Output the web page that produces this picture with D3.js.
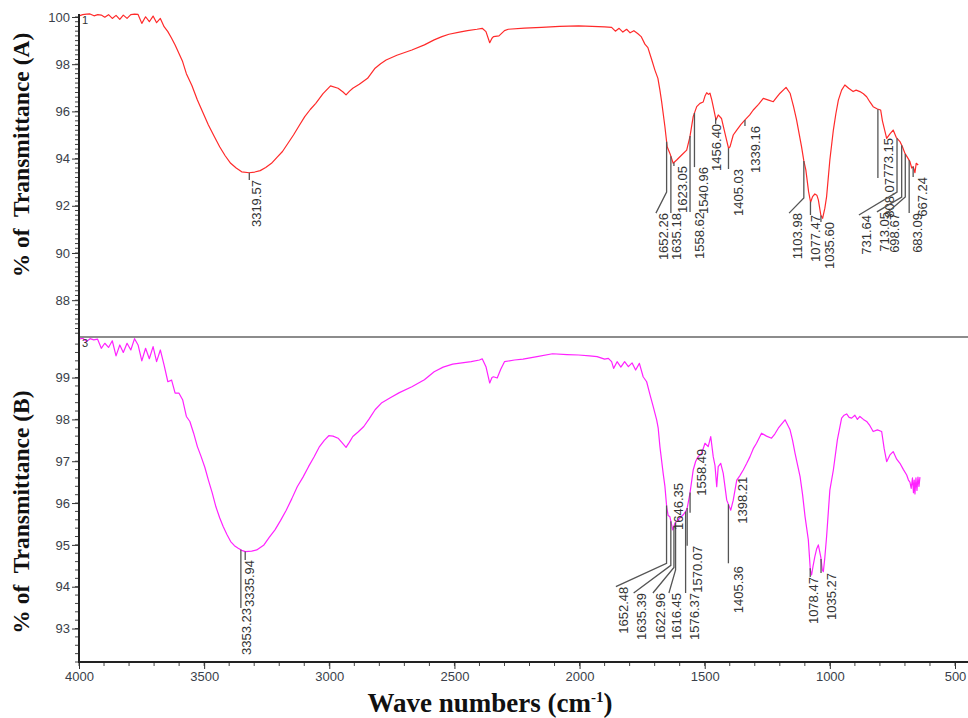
<!DOCTYPE html>
<html>
<head>
<meta charset="utf-8">
<script src="https://cdn.jsdelivr.net/npm/d3@7/dist/d3.min.js"></script>
<style>
  body { margin: 0; background: #fff; }
</style>
</head>
<body>
<svg id="chart" width="968" height="718"></svg>
<script>
// spectrum (A): wavenumber / % transmittance
var wnA = [4000,3985,3970,3956,3940,3925,3911,3897,3882,3867,3852,3837,3823,3808,3793,3778,3764,3749,3734,3719,3704,3690,3675,3660,3645,3630,3616,3601,3586,3571,3549,3527,3505,3483,3460,3438,3416,3394,3372,3350,3320,3298,3276,3254,3231,3209,3187,3165,3143,3120,3098,3076,3054,3025,2995,2965,2945,2933,2920,2906,2880,2847,2817,2795,2773,2730,2670,2620,2581,2550,2522,2480,2448,2410,2389,2374,2359,2350,2344,2322,2300,2285,2220,2152,2080,2004,1950,1900,1872,1857,1842,1827,1812,1798,1783,1768,1754,1739,1727,1712,1699,1687,1679,1672,1659,1650,1639,1626,1612,1592,1572,1559,1546,1532,1519,1506,1499,1492,1485,1479,1472,1466,1455,1446,1433,1419,1405,1399,1386,1372,1355,1339,1320,1306,1285,1266,1245,1226,1212,1199,1175,1159,1145,1133,1113,1104,1096,1085,1077,1069,1060,1052,1046,1036,1029,1020,1013,1000,986,976,966,953,940,925,907,895,880,866,853,840,827,810,797,790,773,760,747,735,720,710,700,690,680,673,667,660,655,647];
var trA = [100.05,100.1,100.12,100.13,100.05,100.1,100.08,99.99,100.1,99.94,100.07,99.9,100.08,99.94,100.1,100.12,100.11,99.73,100.01,99.8,100.04,99.76,99.94,99.59,99.38,99.1,98.81,98.46,98.11,97.6,97.1,96.48,95.95,95.42,94.95,94.5,94.12,93.8,93.6,93.44,93.4,93.43,93.49,93.62,93.8,94.05,94.3,94.65,95.0,95.4,95.78,96.08,96.34,96.75,97.08,96.98,96.82,96.7,96.85,96.98,97.15,97.4,97.83,98.02,98.18,98.38,98.6,98.82,99.03,99.17,99.27,99.36,99.42,99.48,99.52,99.38,98.91,99.1,99.17,99.2,99.42,99.48,99.53,99.56,99.6,99.62,99.6,99.58,99.56,99.4,99.52,99.36,99.48,99.33,99.42,99.3,99.17,98.85,98.7,98.2,97.75,97.4,96.9,96.4,95.35,94.5,94.22,93.8,93.94,94.15,94.36,94.93,95.78,96.2,96.34,96.4,96.65,96.79,96.72,96.77,96.5,96.2,95.64,95.85,95.7,95.07,94.44,94.5,95.0,95.21,95.45,95.64,95.85,96.06,96.3,96.55,96.48,96.41,96.6,96.77,97.02,96.77,96.2,95.64,94.5,93.9,93.52,92.6,92.15,92.39,92.5,92.45,92.25,91.6,91.47,91.9,92.39,93.94,95.21,95.9,96.48,96.9,97.12,96.98,96.84,96.9,96.84,96.75,96.62,96.4,96.2,96.1,96.06,95.6,94.86,95.05,95.21,94.9,94.72,94.5,94.22,94.05,93.87,93.6,93.66,93.4,93.8,93.73];

// spectrum (B)
var wnB = [4000,3985,3970,3956,3941,3926,3911,3897,3882,3867,3852,3837,3823,3808,3793,3778,3764,3749,3734,3719,3704,3690,3675,3660,3645,3630,3616,3601,3586,3571,3557,3542,3527,3512,3497,3483,3468,3453,3438,3424,3409,3394,3379,3364,3350,3335,3310,3290,3261,3240,3217,3195,3172,3150,3128,3105,3083,3061,3039,3020,3002,2985,2965,2950,2933,2920,2906,2885,2862,2840,2817,2790,2758,2720,2670,2620,2581,2545,2507,2470,2433,2400,2389,2374,2359,2350,2344,2329,2315,2300,2260,2226,2170,2108,2050,2004,1960,1930,1900,1885,1872,1864,1850,1835,1820,1805,1790,1776,1761,1746,1732,1719,1706,1692,1686,1679,1666,1659,1652,1646,1639,1633,1628,1619,1606,1586,1576,1570,1559,1546,1536,1526,1512,1499,1486,1476,1466,1459,1452,1446,1436,1426,1412,1396,1386,1372,1360,1346,1332,1319,1306,1293,1273,1253,1233,1220,1206,1179,1159,1149,1139,1119,1109,1099,1086,1078,1073,1067,1060,1053,1046,1036,1030,1026,1020,1013,1000,986,970,953,943,933,923,913,900,890,880,866,853,840,827,810,793,783,773,760,747,733,720,706,693,686,680,675,670,666,663,660,656,652,648,644,640];
var trB = [99.92,99.94,99.86,99.93,99.9,99.92,99.7,99.82,99.72,99.88,99.52,99.78,99.6,99.82,99.66,99.93,99.78,99.4,99.7,99.45,99.74,99.38,99.66,99.3,98.9,98.94,98.63,98.63,98.47,98.07,97.95,97.67,97.35,97.11,96.85,96.55,96.25,95.91,95.65,95.44,95.25,95.08,94.98,94.92,94.87,94.84,94.85,94.88,95.0,95.18,95.36,95.58,95.83,96.1,96.39,96.62,96.87,97.1,97.35,97.5,97.61,97.6,97.55,97.45,97.33,97.45,97.59,97.7,97.83,98.02,98.23,98.4,98.51,98.64,98.78,98.95,99.14,99.25,99.32,99.35,99.38,99.42,99.45,99.26,98.87,99.0,99.02,98.99,99.2,99.38,99.42,99.44,99.5,99.57,99.55,99.54,99.52,99.5,99.44,99.46,99.38,99.22,99.38,99.25,99.38,99.26,99.35,99.18,99.34,99.02,98.9,98.6,98.31,97.99,97.8,97.35,96.71,96.4,95.91,95.7,95.67,95.5,95.36,95.52,95.6,95.72,95.8,95.88,96.23,96.79,97.0,97.11,97.19,97.43,97.35,97.59,97.11,96.9,96.39,96.87,96.95,96.71,96.07,95.83,96.07,96.55,96.65,96.79,96.95,97.11,97.3,97.43,97.67,97.6,97.55,97.65,97.79,97.99,97.75,97.5,97.19,96.63,96.2,95.67,95.12,94.4,94.28,94.5,94.72,94.9,95.0,94.7,94.4,94.36,94.7,95.2,96.31,96.79,97.51,98.03,98.1,98.13,98.05,98.03,98.1,98.0,98.07,98.0,97.95,97.85,97.71,97.75,97.71,97.3,96.99,97.15,97.23,97.05,96.95,96.8,96.67,96.55,96.5,96.35,96.6,96.25,96.55,96.22,96.6,96.3,96.62,96.4,96.62];

var xTicks = [4000, 3500, 3000, 2500, 2000, 1500, 1000, 500];
var yTicksA = [88, 90, 92, 94, 96, 98, 100];
var yTicksB = [93, 94, 95, 96, 97, 98, 99];

// peak labels
var peaksA = ["3319.57","1652.26","1635.18","1623.05","1558.62","1540.96","1456.40","1405.03","1339.16","1103.98","1077.47","1035.60","808.07","773.15","731.64","713.05","698.67","683.09","667.24"];
var peaksB = ["3353.23","3335.94","1652.48","1635.39","1622.96","1616.45","1646.35","1576.37","1570.07","1558.49","1405.36","1398.21","1078.47","1035.27"];

// label placement, in data units: text centre wavenumber, text top, end of the vertical leader, diagonal leader?
var layoutA = [
  [3291, 93.09, 93.09, 0], [1663, 91.69, 92.58, 1], [1611, 91.69, 91.69, 0], [1587, 93.69, 93.69, 0],
  [1519, 91.74, 91.74, 0], [1503, 93.64, 93.64, 0], [1451, 95.47, 95.47, 0], [1367, 93.56, 93.56, 0],
  [1299, 95.38, 95.38, 0], [1131, 91.69, 92.33, 1], [1059, 91.61, 91.61, 0], [1000, 91.31, 91.31, 0],
  [760, 93.18, 93.18, 0], [764, 94.87, 94.87, 0], [852, 91.61, 92.58, 1], [780, 91.74, 92.37, 1],
  [740, 91.69, 92.37, 1], [650, 91.69, 91.69, 0], [630, 93.22, 93.22, 0]
];
var layoutB = [
  [3329, 93.49, 93.49, 0], [3317, 94.64, 94.64, 0], [1823, 94.0, 94.56, 1], [1752, 93.85, 94.51, 1],
  [1675, 93.85, 94.46, 1], [1611, 93.85, 94.40, 1], [1604, 96.48, 96.48, 0], [1539, 93.85, 93.85, 0],
  [1527, 94.98, 94.98, 0], [1511, 97.3, 95.77, 0], [1367, 94.49, 94.56, 0], [1351, 96.63, 96.63, 0],
  [1067, 94.23, 94.23, 0], [992, 94.33, 94.33, 0]
];

var sans = '"Liberation Sans", Arial, sans-serif';
var serif = '"Liberation Serif", "Times New Roman", serif';

var svg = d3.select('#chart');
var left = 79, right = 968;

var x = d3.scaleLinear().domain([4000, 500]).range([left, 955]);
var yA = d3.scaleLinear().domain([86.44, 100.127]).range([337, 14]);
var yB = d3.scaleLinear().domain([92.2, 99.97]).range([662, 337]);

function valueAt(wn, tr, w) {
  for (var i = 0; i < wn.length - 1; i++) {
    if (wn[i] >= w && wn[i + 1] <= w) {
      var t = (wn[i] - w) / (wn[i] - wn[i + 1]);
      return tr[i] + t * (tr[i + 1] - tr[i]);
    }
  }
  return tr[tr.length - 1];
}

function panel(y, wn, tr, ticks, minorStep, color, peaks, layout, traceNo) {
  var g = svg.append('g');

  // y minor ticks
  var d = y.domain();
  var minor = d3.range(Math.ceil(d[0] / minorStep) * minorStep, d[1], minorStep);
  g.selectAll('.ym').data(minor).enter().append('line')
    .attr('x1', left - 4).attr('x2', left)
    .attr('y1', function(v) { return y(v); }).attr('y2', function(v) { return y(v); })
    .attr('stroke', '#444').attr('stroke-width', 1);

  var axis = d3.axisLeft(y).tickValues(ticks).tickSize(7).tickPadding(2);
  var ga = g.append('g').attr('transform', 'translate(' + left + ',0)').call(axis);
  ga.select('.domain').remove();
  ga.selectAll('line').attr('stroke', '#333');
  ga.selectAll('text').style('font-size', '13px').style('fill', '#3a3f4a')
    .style('font-family', sans);

  var line = d3.line()
    .x(function(v, i) { return x(wn[i]); })
    .y(function(v) { return y(v); });
  g.append('path').datum(tr).attr('d', line)
    .attr('fill', 'none').attr('stroke', color).attr('stroke-width', 1.2)
    .attr('stroke-linejoin', 'round');

  g.append('text').attr('x', left + 3).attr('y', y.range()[1] + 10)
    .style('font-family', sans).style('font-size', '11px').style('fill', '#333').text(traceNo);

  // peak labels with leaders
  peaks.forEach(function(p, i) {
    var w = parseFloat(p), L = layout[i];
    var px = x(w), cy = y(valueAt(wn, tr, w));
    var ly = y(L[2]), tx = x(L[0]), ty = y(L[1]);
    var pts = [[px, cy], [px, Math.max(ly, cy)]];
    if (L[3]) pts.push([tx - 8, ty]);
    g.append('path').attr('d', d3.line()(pts))
      .attr('fill', 'none').attr('stroke', '#555').attr('stroke-width', 1.3);
    g.append('text')
      .attr('transform', 'translate(' + tx + ',' + ty + ') rotate(-90)')
      .attr('text-anchor', 'end').attr('dominant-baseline', 'central')
      .style('font-family', sans).style('font-size', '13px').style('fill', '#333').text(p);
  });
}

panel(yA, wnA, trA, yTicksA, 0.2, '#ff2a2a', peaksA, layoutA, '1');
panel(yB, wnB, trB, yTicksB, 0.2, '#ff22ff', peaksB, layoutB, '3');

// x axis
var xMinor = d3.range(4000, 440, -100);
svg.selectAll('.xm').data(xMinor).enter().append('line')
  .attr('x1', function(v) { return x(v); }).attr('x2', function(v) { return x(v); })
  .attr('y1', 662).attr('y2', 666).attr('stroke', '#444');
var gx = svg.append('g').attr('transform', 'translate(0,662)')
  .call(d3.axisBottom(x).tickValues(xTicks).tickFormat(d3.format('d')).tickSize(7).tickPadding(3));
gx.select('.domain').remove();
gx.selectAll('line').attr('stroke', '#333');
gx.selectAll('text').style('font-size', '13px').style('fill', '#3a3f4a').style('font-family', sans);

// frame lines
svg.append('line').attr('x1', left).attr('x2', right).attr('y1', 337).attr('y2', 337)
  .attr('stroke', '#666').attr('stroke-width', 1.5);
svg.append('line').attr('x1', left).attr('x2', right).attr('y1', 662).attr('y2', 662)
  .attr('stroke', '#222').attr('stroke-width', 2);
svg.append('line').attr('x1', left).attr('x2', left).attr('y1', 14).attr('y2', 663)
  .attr('stroke', '#222').attr('stroke-width', 2);

// titles
[['% of  Transmittance (A)', 155], ['% of  Transmittance (B)', 512]].forEach(function(t) {
  svg.append('text').attr('transform', 'translate(29,' + t[1] + ') rotate(-90)')
    .attr('text-anchor', 'middle').style('font-family', serif).style('font-weight', 'bold')
    .style('font-size', '23.5px').style('fill', '#111').style('white-space', 'pre').text(t[0]);
});
var xt = svg.append('text').attr('x', 490).attr('y', 712).attr('text-anchor', 'middle')
  .style('font-family', serif).style('font-weight', 'bold').style('font-size', '27px').style('fill', '#111');
xt.append('tspan').text('Wave numbers (cm');
xt.append('tspan').style('font-size', '15px').attr('dy', -10).text('-1');
xt.append('tspan').attr('dy', 10).text(')');
</script>
</body>
</html>
